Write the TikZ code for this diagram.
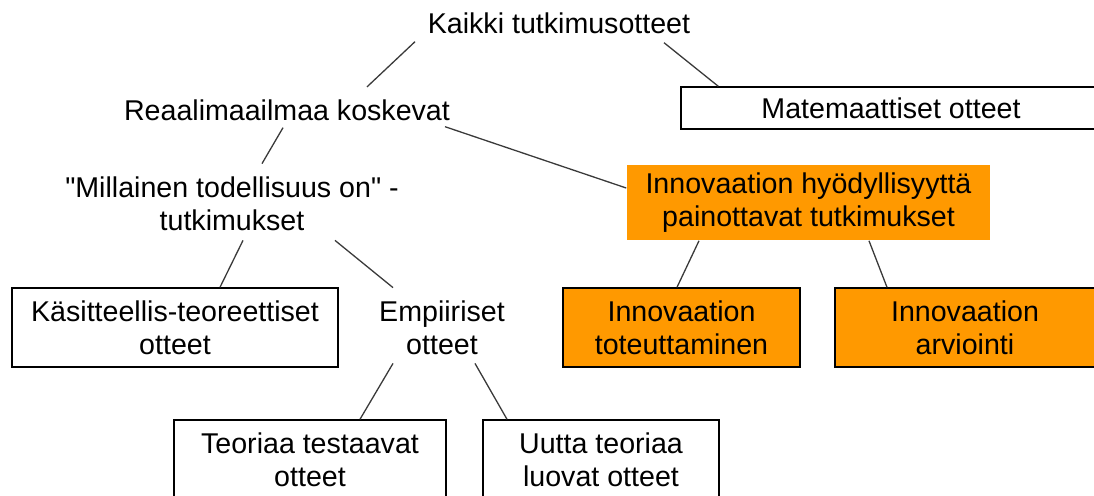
\documentclass[tikz,border=0pt]{standalone}
\usepackage{fontspec}
\setmainfont{Liberation Sans}
\usetikzlibrary{calc}

\definecolor{innovorange}{HTML}{FF9900}
\definecolor{linkgray}{HTML}{3A3A3A}

\tikzset{
        label text/.style={inner sep=0pt, align=center},
        box/.style={draw=black, line width=0.75pt, inner sep=0pt, align=center, minimum height=39.5pt},
        orange box/.style={box, fill=innovorange},
        link/.style={draw=linkgray, line width=0.65pt}
}

\begin{document}
\begin{tikzpicture}[x=0.5pt, y=-0.5pt, font=\fontsize{14.3pt}{16.5pt}\selectfont]
        \useasboundingbox (0,0) rectangle (1094,495);
        \node[label text, anchor=base] (top) at (559,33) {Kaikki tutkimusotteet};
        \node[label text, anchor=base] (real) at (287,120) {Reaalimaailmaa koskevat};
        \node[box, minimum width=210pt, minimum height=21pt] (mat) at (891,108) {Matemaattiset otteet};
        \node[label text] (mill) at (232,204) {\textquotedbl Millainen todellisuus on\textquotedbl{} -\\tutkimukset};
        \node[box, fill=innovorange, draw=none, minimum width=181.5pt, minimum height=37.5pt] (innov) at (808.5,202.5) {Innovaation hyödyllisyyttä\\painottavat tutkimukset};
        \node[box, minimum width=163pt] (kas) at (175,327.5) {Käsitteellis-teoreettiset\\otteet};
        \node[label text] (emp) at (442,328) {Empiiriset\\otteet};
        \node[orange box, minimum width=118.5pt] (tot) at (681.5,327.5) {Innovaation\\toteuttaminen};
        \node[orange box, minimum width=130pt] (arv) at (965,327.5) {Innovaation\\arviointi};
        \node[box, minimum width=136pt] (teo) at (310,459.5) {Teoriaa testaavat\\otteet};
        \node[box, minimum width=118pt] (uut) at (601,459.5) {Uutta teoriaa\\luovat otteet};
        \draw[link] ($(top.south)+(-144,8)$) -- ($(real.north)+(80,-12)$);
        \draw[link] ($(top.south)+(105,9)$) -- ($(mat.north west)+(38,0)$);
        \draw[link] ($(real.south)+(-4,7)$) -- ($(mill.north)+(30,-13)$);
        \draw[link] ($(real.south)+(158,6)$) -- ($(innov.west)+(0,-14.5)$);
        \draw[link] ($(mill.south)+(11,9)$) -- ($(kas.north)+(45,0)$);
        \draw[link] ($(mill.south)+(103,9)$) -- ($(emp.north)+(-49,-13)$);
        \draw[link] ($(emp.south)+(-49,8)$) -- ($(teo.north)+(50,0)$);
        \draw[link] ($(emp.south)+(33,8)$) -- ($(uut.north)+(-94,0)$);
        \draw[link] ($(innov.south)+(-109.5,0)$) -- ($(tot.north)+(-4.5,0)$);
        \draw[link] ($(innov.south)+(60.5,0)$) -- ($(arv.north)+(-78,0)$);
\end{tikzpicture}
\end{document}
